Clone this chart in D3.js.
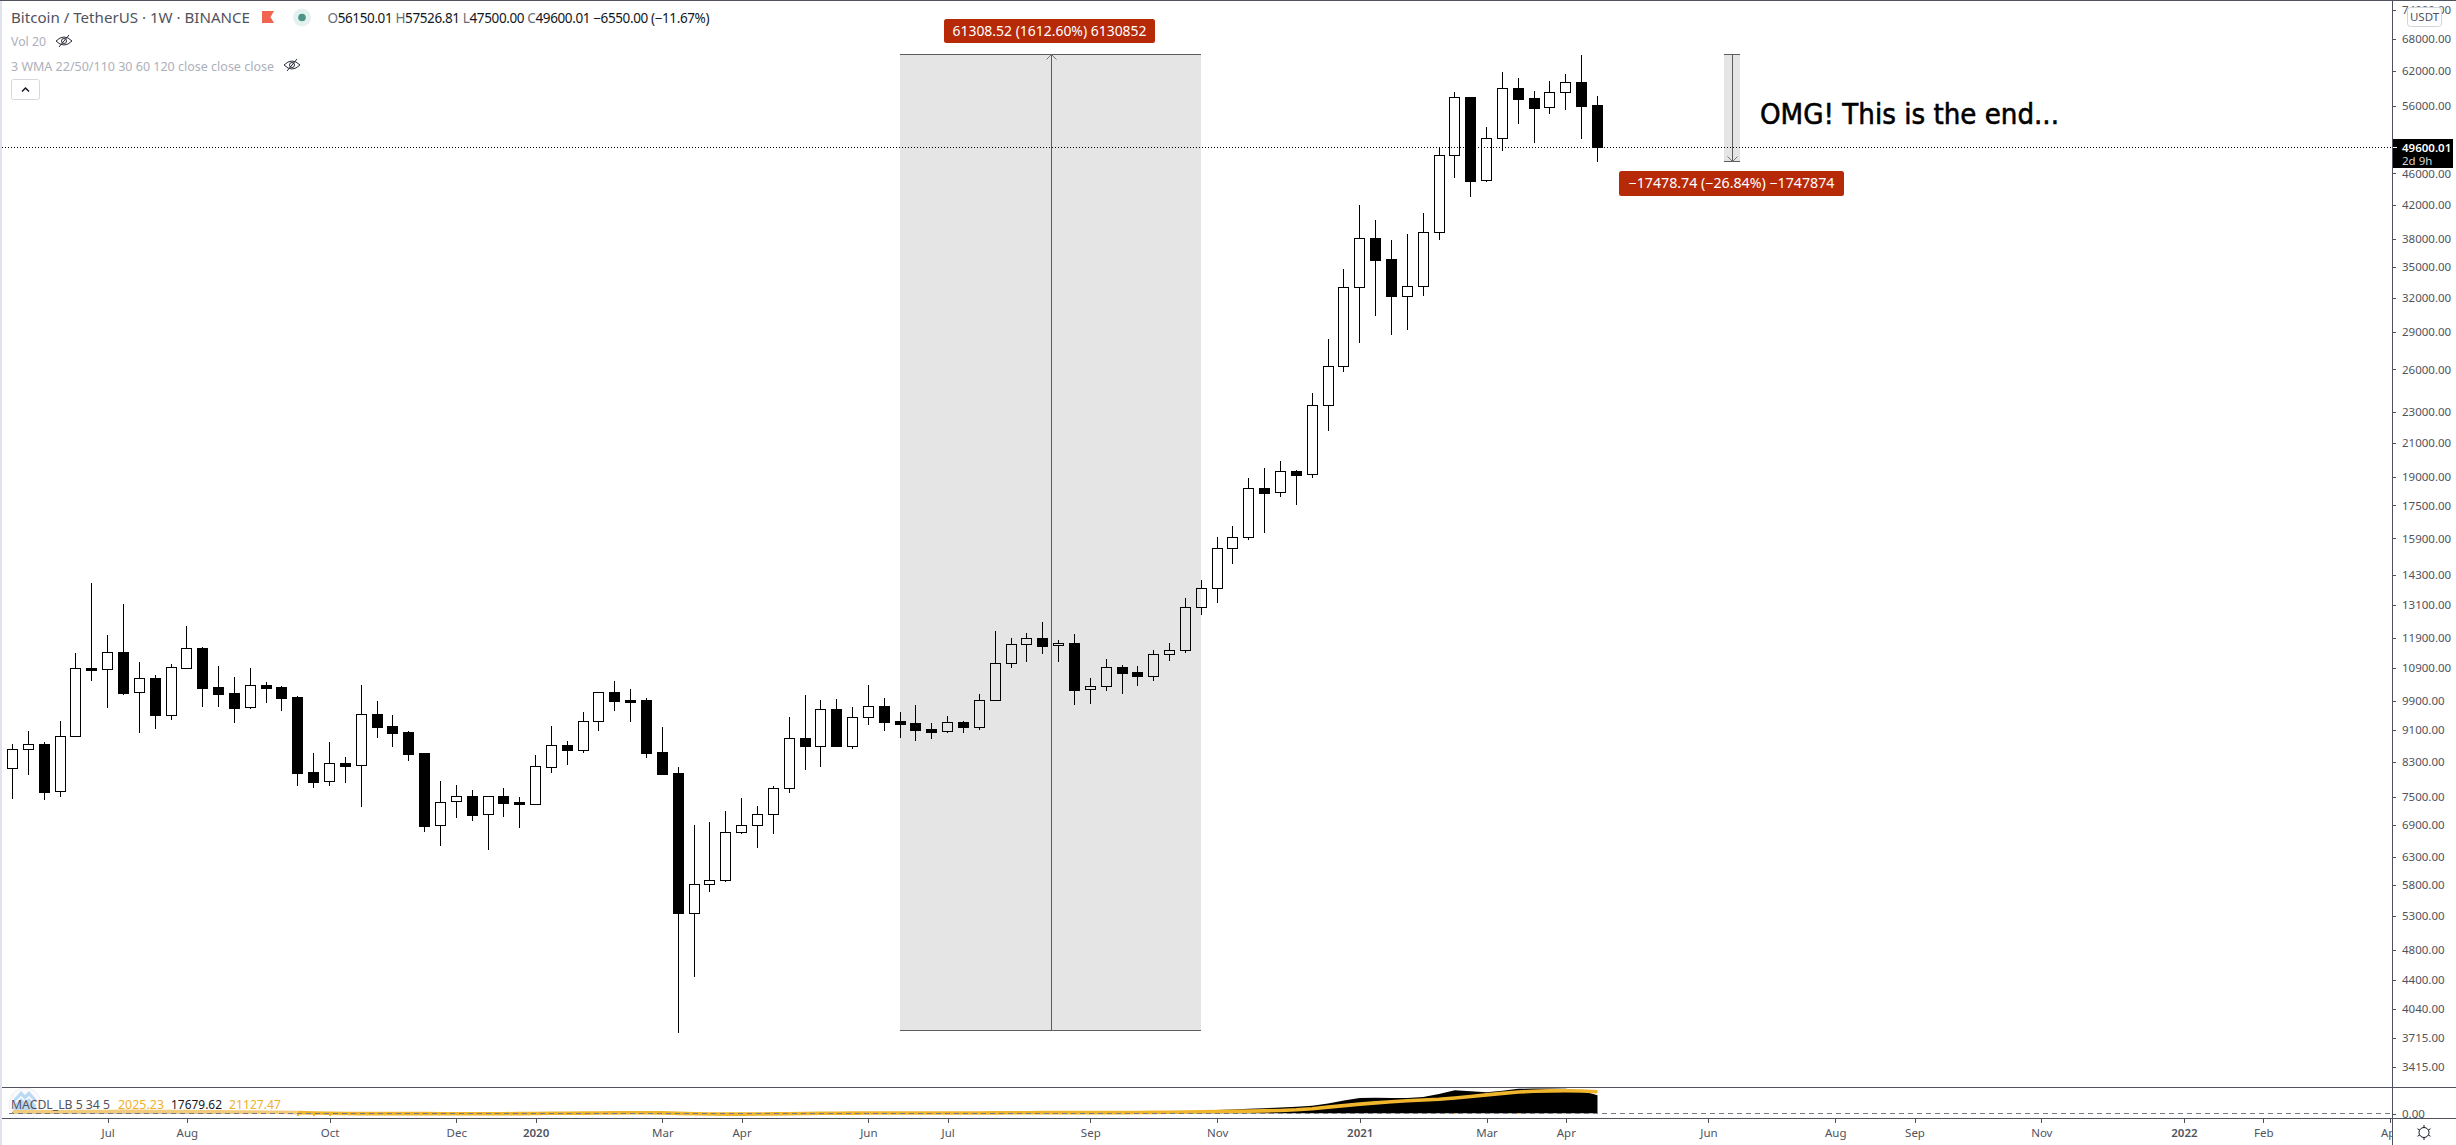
<!DOCTYPE html>
<html><head><meta charset="utf-8">
<script src="https://cdn.jsdelivr.net/npm/d3@7"></script>
<style>html,body{margin:0;padding:0;background:#fff;overflow:hidden}svg{display:block}text{font-family:"Noto Sans",sans-serif}</style>
</head><body><svg id="c" width="2456" height="1145"></svg>
<script>
const highs=[8743,9080,8786,9349,11394,13967,12006,13140,11099,10687,11035,12325,11594,10971,10625,10907,10472,10351,10054,8517,8794,8419,10381,9909,9513,9080,8517,7851,7760,7648,7508,7693,7494,8468,9214,8820,9597,10162,10502,10261,9996,9187,8177,6908,6968,7195,7472,7300,7738,9458,10083,9938,9966,9737,10381,9996,9597,9794,9294,9486,9349,10113,12147,11902,12076,12469,11821,12041,10594,11197,11003,10971,11494,11730,13371,14090,15968,16487,18958,19518,19919,19405,24277,28408,34824,41952,40161,37890,38558,40987,49616,58283,57497,52640,61775,60706,58452,60178,61416,64907,57526.81];
const opens=[8146,8609,8743,7619,8941,10897,10865,11427,10162,10594,9522,10918,11561,10321,10142,9728,10381,10321,10025,8059,7843,8273,8217,9541,9214,9054,8517,6901,7400,7516,7125,7516,7379,7350,8185,8718,8600,9339,10172,9938,9938,8542,8036,5352,5812,5880,6762,6901,7125,7685,8897,8701,9681,8701,9449,9766,9349,9294,9133,9072,9321,9196,9928,11056,11685,11902,11651,11730,10251,10341,10939,10781,10667,11350,11483,13013,13752,15450,15952,18414,18184,19348,19161,23422,26236,33016,38074,35818,32225,33112,38745,48474,57441,45074,50932,58965,57274,55740,58226,60003,56150.01];
const closes=[8609,8735,7611,8941,10897,10854,11416,10152,10584,9522,10928,11550,10301,10122,9718,10371,10301,10005,8044,7836,8265,8209,9532,9196,9037,8501,6894,7379,7508,7118,7508,7371,7350,8193,8710,8600,9339,10162,9918,9889,8526,8020,5352,5812,5880,6762,6901,7125,7685,8889,8701,9671,8701,9449,9756,9330,9276,9116,9063,9312,9196,9928,11056,11685,11890,11639,11719,10241,10341,10928,10760,10656,11350,11483,13013,13752,15450,15952,18397,18166,19329,19124,23422,26236,33016,38074,35783,32225,33112,38745,48474,57385,45030,50932,58908,57163,55686,58226,59945,56011,49600.01];
const lows=[7450,7997,7429,7494,8941,10502,9709,10083,9028,9133,9376,10918,9737,9737,9294,9690,9851,9625,7738,7693,7738,7806,7279,8897,8667,8321,6768,6498,7050,6989,6423,7070,6848,7322,8036,8225,8517,9080,9625,9321,8394,7989,3775,4439,5684,5852,6729,6461,6729,7582,8106,8177,8701,8617,9240,9080,8897,8820,8872,9028,9028,9107,9928,10907,11099,11361,11099,9794,9823,10201,10113,10351,10502,11132,11394,12726,13178,14761,15829,16155,17939,17526,18958,21736,25807,28106,30374,28768,29189,32193,37890,45381,42940,44856,49089,53101,50245,54669,55309,50834,47500];
const macdLine=[1300,1500,1500,1500,1700,2000,2100,2000,1900,1800,1700,1500,1300,1100,900,800,800,700,200,0,0,0,0,0,0,0,0,0,0,0,0,0,0,0,300,400,500,600,700,600,300,0,0,0,0,0,0,0,0,100,300,500,500,500,500,400,300,300,200,200,300,500,800,1000,1000,1000,900,700,600,600,500,500,700,900,1500,2600,3200,3800,4400,5000,5700,6400,7400,9500,12500,15000,15300,15000,15000,16000,19000,22500,21500,20500,22000,24000,24200,24200,24000,22000,17679.62];
const signalLine=[1400,1500,1500,1500,1600,1700,1800,1900,1900,1800,1700,1600,1500,1400,1300,1200,1100,1000,700,300,0,-200,-300,-300,-300,-300,-300,-400,-500,-500,-500,-400,-300,-200,0,100,200,300,400,500,600,400,-100,-500,-700,-800,-800,-700,-600,-400,-200,0,100,200,300,300,300,300,300,300,300,300,400,500,600,700,700,700,700,700,700,800,900,1100,1300,1500,1700,1900,2100,2400,2800,3400,4500,6000,7500,9000,10200,11300,12200,13000,13700,15000,16500,18000,19500,20800,21600,21900,22000,21800,21127.47];
const histBars=[[18,-2500],[19,-2500],[20,-2500],[21,-2000],[26,-1500],[27,-1500],[29,-1500],[30,-1500],[31,-1500],[32,-1500],[43,-2000],[44,-1500],[88,-700],[91,-700],[95,-700]];
const priceTicks=[74000,68000,62000,56000,46000,42000,38000,35000,32000,29000,26000,23000,21000,19000,17500,15900,14300,13100,11900,10900,9900,9100,8300,7500,6900,6300,5800,5300,4800,4400,4040,3715,3415];
const timeIndex=[6,11,20,28,33,41,46,54,59,68,76,85,93,98,107,115,120,128,137,142,150];
const timeLabels=["Jul","Aug","Oct","Dec","2020","Mar","Apr","Jun","Jul","Sep","Nov","2021","Mar","Apr","Jun","Aug","Sep","Nov","2022","Feb","Apr"];
const lastPrice=49600.01, measureLow=3801.49, measureHigh=65110.01, dropLow=47631.27;

const INK="#50535e",W=2456,H=1145,axisX=2392;
const svg=d3.select("#c");
const x=d3.scaleLinear().domain([0,100]).range([12.5,1597.5]);
const y=d3.scaleLog().domain([68000,3415]).range([39,1067]);
const m=d3.scaleLinear().domain([0,21127.47]).range([1113.3,1091.7]);
const idx=d3.range(highs.length);
const px=i=>Math.floor(x(i));

svg.append("rect").attr("width",W).attr("height",H).attr("fill","#fff");
// candles
const cs=svg.append("g").attr("shape-rendering","crispEdges");
cs.selectAll("line.w").data(idx).join("line").attr("class","w")
 .attr("x1",i=>px(i)+.5).attr("x2",i=>px(i)+.5).attr("y1",i=>y(highs[i])).attr("y2",i=>y(lows[i])).attr("stroke","#000");
cs.selectAll("rect.b").data(idx).join("rect").attr("class","b")
 .attr("x",i=>px(i)-4.5).attr("width",10)
 .attr("y",i=>Math.round(y(Math.max(opens[i],closes[i])))+.5)
 .attr("height",i=>Math.max(1,Math.round(y(Math.min(opens[i],closes[i])))-Math.round(y(Math.max(opens[i],closes[i])))))
 .attr("fill",i=>closes[i]>=opens[i]?"#fff":"#000").attr("stroke","#000");

// last price dotted line
svg.append("line").attr("x1",2).attr("x2",axisX).attr("y1",Math.round(y(lastPrice))+.5).attr("y2",Math.round(y(lastPrice))+.5)
 .attr("stroke","#000").attr("stroke-dasharray","1 2").attr("shape-rendering","crispEdges");

// measure tools
function measure(i0,i1,pTop,pBot,up){
  const g=svg.append("g"),xa=Math.round(x(i0)),xb=Math.round(x(i1)),xm=Math.round((xa+xb)/2)+.5,yt=Math.round(y(pTop))+.5,yb=Math.round(y(pBot))+.5;
  g.append("rect").attr("x",xa).attr("y",yt).attr("width",xb-xa).attr("height",yb-yt).attr("fill","#000").attr("fill-opacity",.1);
  const lines=g.append("g").attr("shape-rendering","crispEdges").attr("stroke","#5c5c5c");
  [yt,yb].forEach(v=>lines.append("line").attr("x1",xa).attr("x2",xb).attr("y1",v).attr("y2",v));
  lines.append("line").attr("x1",xm).attr("x2",xm).attr("y1",yt).attr("y2",yb);
  const tip=up?yt:yb,d=up?5:-5;
  g.append("path").attr("d",`M${xm-5},${tip+d} L${xm},${tip} L${xm+5},${tip+d}`).attr("fill","none").attr("stroke","#777").attr("stroke-width",1);
}
measure(56,75,measureHigh,measureLow,true);
measure(108,109,measureHigh,dropLow,false);
function badge(x0,x1,y0,y1,t,len){
  svg.append("rect").attr("x",x0).attr("y",y0).attr("width",x1-x0).attr("height",y1-y0).attr("rx",2.5).attr("fill","#b72a08");
  svg.append("text").attr("x",(x0+x1)/2).attr("y",(y0+y1)/2+4.7).attr("text-anchor","middle").attr("fill","#fff").attr("font-size",13.5).attr("textLength",len).attr("lengthAdjust","spacingAndGlyphs").text(t);
}
badge(944,1155,19,43,"61308.52 (1612.60%) 6130852",194);
badge(1619,1844,171,196,"\u221217478.74 (\u221226.84%) \u22121747874",206);
svg.append("text").attr("x",1760).attr("y",124).attr("font-size",28).attr("fill","#000").attr("stroke","#000").attr("stroke-width",.6).attr("textLength",299).attr("lengthAdjust","spacingAndGlyphs").style("font-family","'DejaVu Sans'").text("OMG! This is the end...");

// MACD pane
const logo=svg.append("g");
logo.append("clipPath").attr("id","lc").append("rect").attr("x",0).attr("y",1088).attr("width",60).attr("height",30);
const lg=logo.append("g").attr("clip-path","url(#lc)");
lg.append("circle").attr("cx",25).attr("cy",1104).attr("r",16).attr("fill","#fbfbfd").attr("stroke","#ecedf2");
lg.append("path").attr("d","M14,1099 L21,1091 L25,1095 L29,1091 L36,1099 L36,1110 L14,1110 Z").attr("fill","#bcd9f3");
lg.append("path").attr("d","M14,1104 L21,1097 L25,1101 L29,1097 L36,1104").attr("fill","none").attr("stroke","#fff").attr("stroke-width",1.5);

svg.append("path").datum(idx).attr("fill","#000").attr("d",d3.area().x(i=>x(i)).y0(m(0)).y1(i=>m(macdLine[i]))(idx));
svg.append("g").attr("shape-rendering","crispEdges").selectAll("rect").data(histBars).join("rect")
 .attr("x",d=>px(d[0])-.5).attr("width",2).attr("y",m(0)).attr("height",d=>m(d[1])-m(0)).attr("fill","#efb52c");
const sl=d3.line().x(i=>x(i)).y(i=>m(signalLine[i]));
svg.append("path").attr("fill","none").attr("stroke","#f2cc7c").attr("stroke-width",3.6).attr("d",sl(idx.filter(i=>i<=18)));
svg.append("path").attr("fill","none").attr("stroke","#efb52c").attr("stroke-width",3.6).attr("d",sl(idx.filter(i=>i>=18)));
svg.append("line").attr("x1",9).attr("x2",axisX).attr("y1",1113.5).attr("y2",1113.5).attr("stroke","#787b86").attr("stroke-dasharray","5 4");

// frame
const frame=svg.append("g").attr("shape-rendering","crispEdges");
frame.append("rect").attr("x",0).attr("y",0).attr("width",2).attr("height",H).attr("fill","#e0e3eb");
frame.append("rect").attr("x",0).attr("y",0).attr("width",W).attr("height",1).attr("fill",INK);
[1087.5,1118.5].forEach(v=>frame.append("line").attr("x1",2).attr("x2",W).attr("y1",v).attr("y2",v).attr("stroke",INK));

// time axis
svg.append("clipPath").attr("id","tc").append("rect").attr("x",0).attr("y",1119).attr("width",axisX).attr("height",30);
const ta=svg.append("g").attr("clip-path","url(#tc)").append("g").attr("transform","translate(0,1118.5)")
 .call(d3.axisBottom(x).tickValues(timeIndex).tickSize(4).tickPadding(6).tickFormat((d,i)=>timeLabels[i]));
ta.select(".domain").remove();
ta.selectAll("line").attr("stroke",INK).attr("shape-rendering","crispEdges");
ta.selectAll("text").attr("fill",INK).attr("font-size",11.5).attr("font-weight",(d,i)=>/^20/.test(timeLabels[i])?600:400).style("font-family","'Noto Sans'");

// price axis
const pa=svg.append("g").attr("transform",`translate(${axisX},0)`)
 .call(d3.axisRight(y).tickValues(priceTicks).tickSize(4).tickPadding(6).tickFormat(d=>d.toFixed(2)));
pa.select(".domain").remove();
pa.selectAll("line").attr("stroke",INK).attr("shape-rendering","crispEdges");
pa.selectAll("text").attr("fill",INK).attr("font-size",11.5).style("font-family","'Noto Sans'");
const za=svg.append("g").attr("transform",`translate(${axisX},0)`)
 .call(d3.axisRight(d3.scaleLinear().domain([0,1]).range([1113.5,1112.5])).tickValues([0]).tickSize(4).tickPadding(6).tickFormat(d=>d.toFixed(2)));
za.select(".domain").remove();
za.selectAll("line").attr("stroke",INK).attr("shape-rendering","crispEdges");
za.selectAll("text").attr("fill",INK).attr("font-size",11.5).style("font-family","'Noto Sans'");
svg.append("line").attr("x1",axisX+.5).attr("x2",axisX+.5).attr("y1",0).attr("y2",H).attr("stroke",INK).attr("shape-rendering","crispEdges");

// last price badge
const ly=Math.round(y(lastPrice));
svg.append("rect").attr("x",axisX+1).attr("y",139).attr("width",60).attr("height",29).attr("fill","#000");
svg.append("line").attr("x1",axisX+1).attr("x2",axisX+5).attr("y1",ly+.5).attr("y2",ly+.5).attr("stroke","#fff").attr("shape-rendering","crispEdges");
svg.append("text").attr("x",2402).attr("y",152).attr("font-size",11.5).attr("font-weight",600).attr("fill","#fff").text(lastPrice.toFixed(2));
svg.append("text").attr("x",2402).attr("y",165).attr("font-size",11.5).attr("fill","#d6d6d6").text("2d 9h");
// USDT box
svg.append("rect").attr("x",2407.5).attr("y",7.5).attr("width",34).attr("height",19).attr("rx",3).attr("fill","#fff").attr("stroke","#d1d4dc");
svg.append("text").attr("x",2424.5).attr("y",21).attr("text-anchor","middle").attr("font-size",11.5).attr("fill",INK).text("USDT");
// gear
const gr=svg.append("g").attr("transform","translate(2424,1132.5)").attr("fill","none").attr("stroke","#131722");
gr.append("circle").attr("r",5);
d3.range(6).forEach(k=>{const a=k*Math.PI/3+Math.PI/6;gr.append("line").attr("x1",5*Math.cos(a)).attr("y1",5*Math.sin(a)).attr("x2",7.5*Math.cos(a)).attr("y2",7.5*Math.sin(a));});

// legends
svg.append("text").attr("x",11).attr("y",23).attr("font-size",15).attr("fill",INK).attr("textLength",239).attr("lengthAdjust","spacingAndGlyphs").text("Bitcoin / TetherUS \u00b7 1W \u00b7 BINANCE");
svg.append("path").attr("d","M262,11 H274 L270.5,17 L274,23 H262 Z").attr("fill","#ef6350");
svg.append("circle").attr("cx",302).attr("cy",17.5).attr("r",9).attr("fill","#e5f1ef");
svg.append("circle").attr("cx",302).attr("cy",17.5).attr("r",3.8).attr("fill","#4a9585");
const ohlc=svg.append("text").attr("x",327.5).attr("y",23).attr("font-size",13.5).attr("fill","#131722").attr("textLength",382).attr("lengthAdjust","spacing");
[["O",1],["56150.01 ",0],["H",1],["57526.81 ",0],["L",1],["47500.00 ",0],["C",1],["49600.01 ",0],["\u22126550.00 (\u221211.67%)",0]].forEach(([t,g])=>{const s=ohlc.append("tspan").text(t);if(g)s.attr("fill","#6a6d78");});
const eye=(cx,cy)=>{const e=svg.append("g").attr("transform",`translate(${cx},${cy})`).attr("fill","none").attr("stroke","#2a2e39").attr("stroke-width",1);
 e.append("path").attr("d","M-8,0 Q0,-8 8,0 Q0,8 -8,0 Z");e.append("circle").attr("r",2.5);e.append("line").attr("x1",-5).attr("y1",6).attr("x2",5).attr("y2",-6);};
svg.append("text").attr("x",11).attr("y",46).attr("font-size",13).attr("fill","#adb0ba").attr("textLength",35).attr("lengthAdjust","spacingAndGlyphs").text("Vol 20");
eye(64,41);
svg.append("text").attr("x",11).attr("y",71).attr("font-size",13).attr("fill","#adb0ba").attr("textLength",263).attr("lengthAdjust","spacingAndGlyphs").text("3 WMA 22/50/110 30 60 120 close close close");
eye(292,65);
svg.append("rect").attr("x",11.5).attr("y",79.5).attr("width",28).attr("height",20).attr("rx",2).attr("fill","#fff").attr("stroke","#d6d8e0");
svg.append("path").attr("d","M22,91.5 L25.5,88 L29,91.5").attr("fill","none").attr("stroke","#131722").attr("stroke-width",1.5);
[["MACDL_LB 5 34 5",11,INK,99],["2025.23",118,"#eeb02a",46],["17679.62",171,"#131722",51],["21127.47",229,"#eeb02a",52]].forEach(([t,xx,c,l])=>
 svg.append("text").attr("x",xx).attr("y",1109).attr("font-size",13).attr("fill",c).attr("textLength",l).attr("lengthAdjust","spacingAndGlyphs").text(t));
</script></body></html>
